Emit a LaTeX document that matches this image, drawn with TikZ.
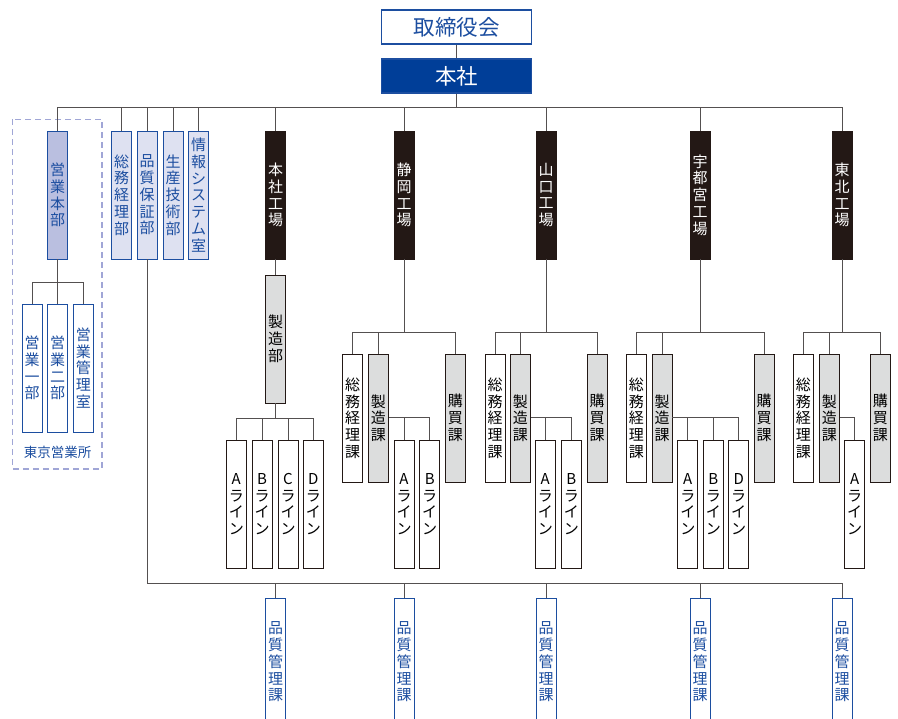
\documentclass[tikz,border=0pt]{standalone}
\usepackage{fontspec}
\setmainfont{Noto Sans CJK JP}
\usepackage{tikz}

\definecolor{orgblue}{RGB}{28,78,160}
\definecolor{honshablue}{RGB}{0,62,152}
\definecolor{paleblue}{RGB}{222,225,241}
\definecolor{lavender}{RGB}{186,191,224}
\definecolor{dashblue}{RGB}{160,166,214}
\definecolor{factoryblack}{RGB}{35,24,21}
\definecolor{lightgray}{RGB}{220,221,221}
\definecolor{linegray}{RGB}{84,80,80}

\tikzset{
  unitbox/.style={draw, line width=0.9pt, minimum width=20pt, minimum height=128pt, inner sep=0pt, align=center, font=\fontsize{15}{16.7}\selectfont},
  bluebox/.style={unitbox, draw=orgblue, fill=paleblue, text=orgblue},
  whitebluebox/.style={unitbox, draw=orgblue, fill=white, text=orgblue},
  factory/.style={unitbox, draw=factoryblack, fill=factoryblack, text=white},
  graybox/.style={unitbox, draw=factoryblack, fill=lightgray},
  whitebox/.style={unitbox, draw=factoryblack, fill=white},
  topbox/.style={draw=orgblue, line width=1.2pt, minimum width=150pt, minimum height=34pt, inner sep=0pt, font=\fontsize{21.5}{24}\selectfont},
  conn/.style={draw=linegray, line width=1pt},
}

\begin{document}
\begin{tikzpicture}[x=1pt, y=-1pt]
\path[use as bounding box] (0,0) rectangle (898,719);
\clip (0,0) rectangle (898,719);

% top
\node[topbox, fill=white, text=orgblue] (board) at (456.5,27) {取締役会};
\node[topbox, fill=honshablue, text=white] (honsha) at (456.5,76) {本社};
\draw[conn] (board) -- (honsha);
\coordinate (topbus) at (456.5,108);
\draw[conn] (honsha.south) -- (topbus);

% departments
\draw[dashblue, line width=1.2pt, dash pattern=on 6pt off 4pt] (12.7,119.3) rectangle (102,469);
\node[bluebox, fill=lavender] (eigyo) at (57.7,195) {営\\業\\本\\部};
\node[bluebox] (soumu) at (121.5,195) {総\\務\\経\\理\\部};
\node[bluebox] (hinsho) at (147,195) {品\\質\\保\\証\\部};
\node[bluebox] (seisan) at (173,195) {生\\産\\技\\術\\部};
\node[bluebox] (joho) at (198.5,195) {情\\報\\シ\\ス\\テ\\ム\\室};

\node[whitebluebox] (e1) at (32,368) {営\\業\\一\\部};
\node[whitebluebox] (e2) at (57.7,368) {営\\業\\二\\部};
\node[whitebluebox] (e3) at (83.3,368) {営\\業\\管\\理\\室};
\node[text=orgblue, font=\fontsize{13.5}{15}\selectfont] (tokyo) at (57.5,452) {東京営業所};
\coordinate (ebus) at (57.7,283);
\draw[conn] (eigyo.south) -- (ebus);
\foreach \n in {e1,e2,e3}
  \draw[conn] (ebus) -| (\n.north);

% factories
\node[factory] (f1) at (275.5,195) {本\\社\\工\\場};
\node[factory] (f2) at (404,195) {静\\岡\\工\\場};
\node[factory] (f3) at (546,195) {山\\口\\工\\場};
\node[factory] (f4) at (700,195) {宇\\都\\宮\\工\\場};
\node[factory] (f5) at (842,195) {東\\北\\工\\場};

\foreach \n in {eigyo,soumu,hinsho,seisan,joho,f1,f2,f3,f4,f5}
  \draw[conn] (topbus) -| (\n.north);

% honsha factory
\node[graybox] (seizobu) at (275.5,339) {製\\造\\部};
\draw[conn] (f1.south) -- (seizobu.north);
\node[whitebox] (l1a) at (236.3,504) {A\\ラ\\イ\\ン};
\node[whitebox] (l1b) at (262,504) {B\\ラ\\イ\\ン};
\node[whitebox] (l1c) at (288,504) {C\\ラ\\イ\\ン};
\node[whitebox] (l1d) at (313.3,504) {D\\ラ\\イ\\ン};
\coordinate (lbus1) at (275.5,419);
\draw[conn] (seizobu.south) -- (lbus1);
\foreach \n in {l1a,l1b,l1c,l1d}
  \draw[conn] (lbus1) -| (\n.north);

% other factories
\foreach \i/\x/\g/\s/\k in {2/404/352.7/378.3/455.3, 3/546/495/520.3/597, 4/700/636.3/662/764.2, 5/842/803.3/829.3/880.3}{
  \node[whitebox] (gen\i) at (\g,418) {総\\務\\経\\理\\課};
  \node[graybox] (sei\i) at (\s,418) {製\\造\\課};
  \node[graybox] (kou\i) at (\k,418) {購\\買\\課};
  \coordinate (sbus\i) at (\x,333);
  \draw[conn] (f\i.south) -- (sbus\i);
  \foreach \n in {gen,sei,kou}
    \draw[conn] (sbus\i) -| (\n\i.north);
}

\node[whitebox] (l2a) at (404,504) {A\\ラ\\イ\\ン};
\node[whitebox] (l2b) at (429.7,504) {B\\ラ\\イ\\ン};
\node[whitebox] (l3a) at (545.3,504) {A\\ラ\\イ\\ン};
\node[whitebox] (l3b) at (571.3,504) {B\\ラ\\イ\\ン};
\node[whitebox] (l4a) at (687.8,504) {A\\ラ\\イ\\ン};
\node[whitebox] (l4b) at (713.3,504) {B\\ラ\\イ\\ン};
\node[whitebox] (l4d) at (738.7,504) {D\\ラ\\イ\\ン};
\node[whitebox] (l5a) at (854.7,504) {A\\ラ\\イ\\ン};
\foreach \s/\n in {sei2/l2a,sei2/l2b,sei3/l3a,sei3/l3b,sei4/l4a,sei4/l4b,sei4/l4d,sei5/l5a}
  \draw[conn] (\s.east) -| (\n.north);

% quality control
\foreach \i/\x in {1/275.5,2/404,3/546,4/700,5/842}
  \node[whitebluebox] (qc\i) at (\x,662) {品\\質\\管\\理\\課};
\coordinate (qbus) at (842,583);
\draw[conn] (hinsho.south) |- (qbus);
\foreach \i in {1,...,5}
  \draw[conn] (qbus) -| (qc\i.north);

\end{tikzpicture}
\end{document}
